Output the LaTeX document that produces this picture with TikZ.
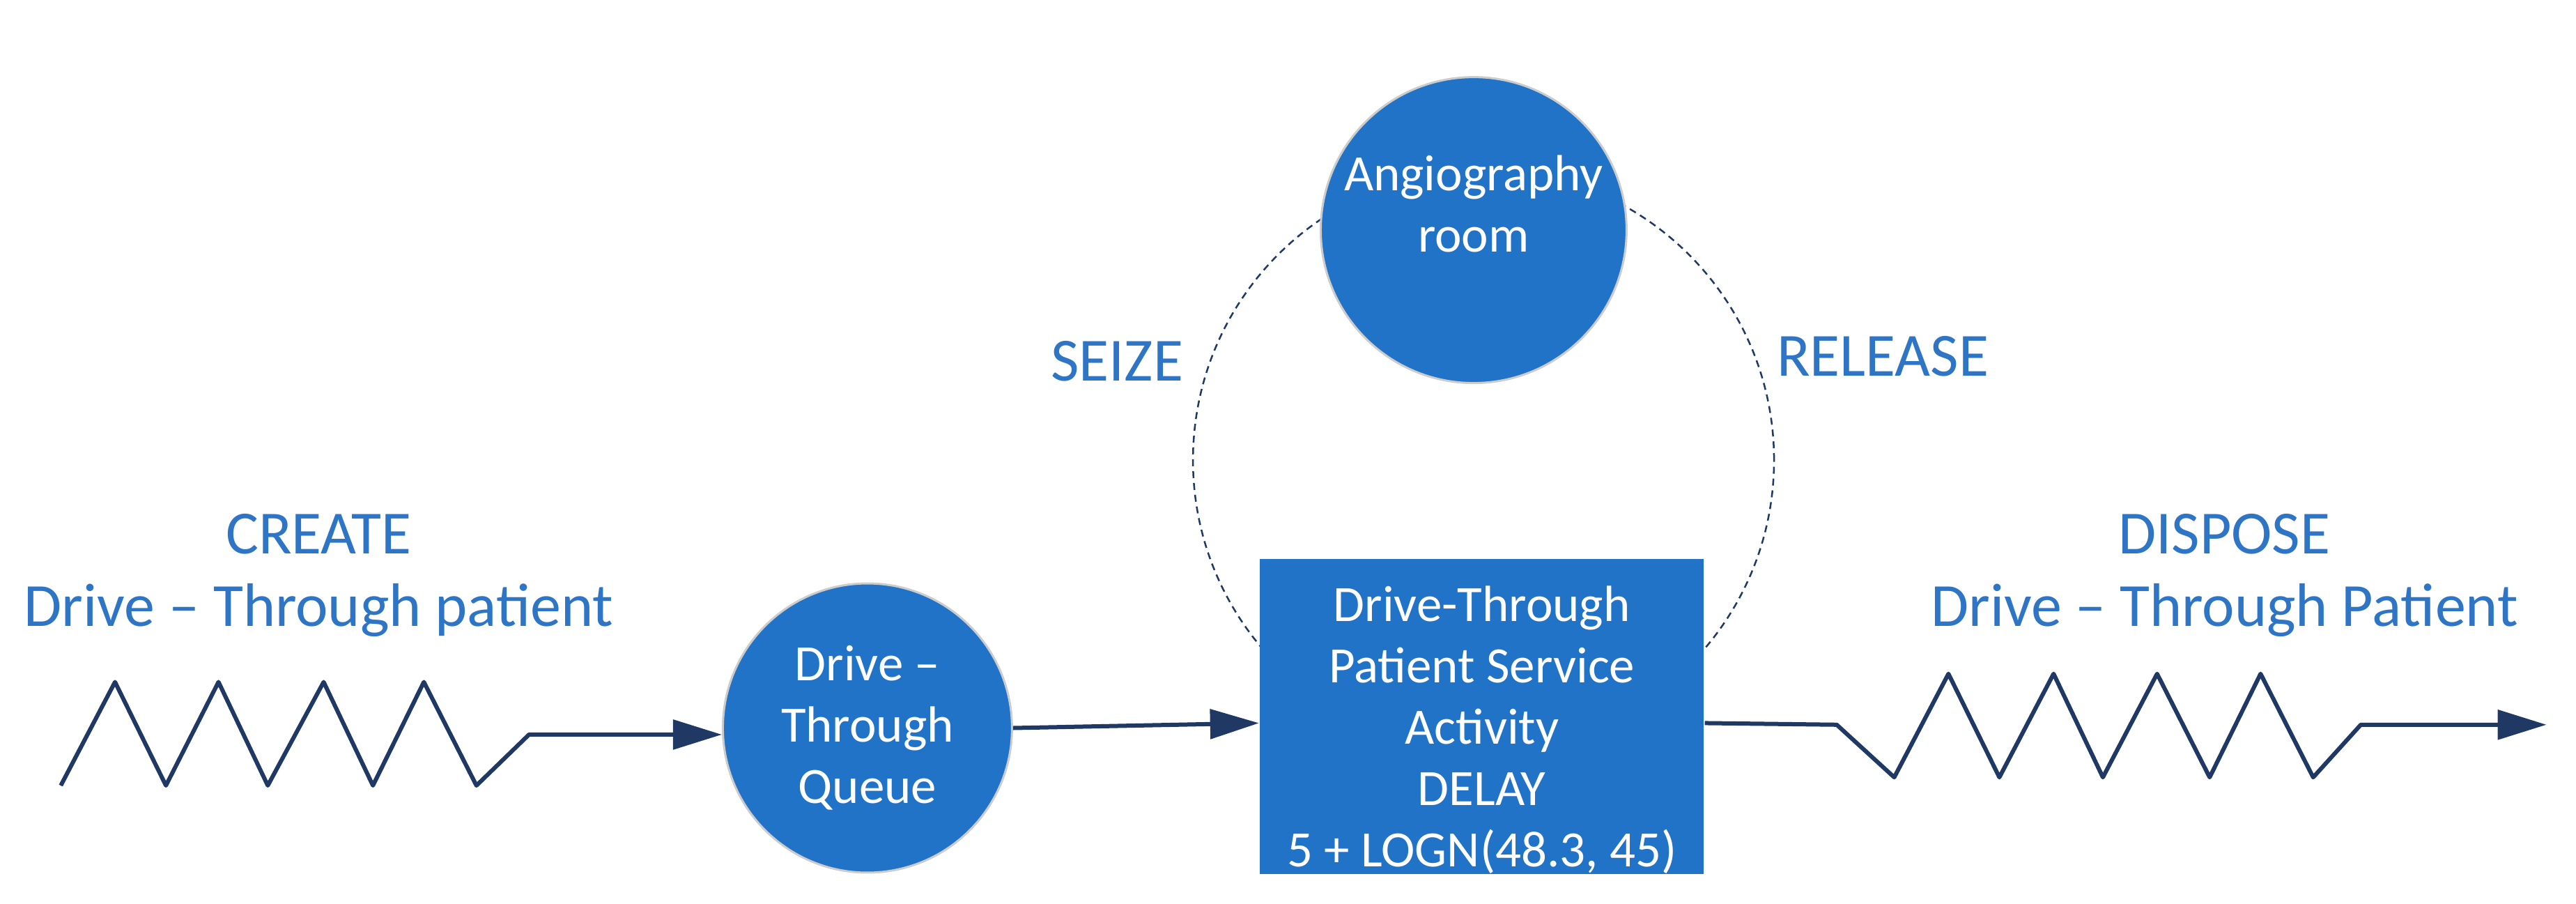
\documentclass[tikz,border=0pt]{standalone}
\usepackage{fontspec}
\setmainfont{Carlito}
\usetikzlibrary{arrows.meta}
\definecolor{fillb}{RGB}{33,115,200}
\definecolor{txtb}{RGB}{46,117,198}
\definecolor{navy}{RGB}{31,56,100}
\begin{document}
\begin{tikzpicture}[x=2.358pt,y=-2.358pt,
  blob/.style={fill=fillb,draw=gray!40,line width=3pt,text=white,align=center,font=\fontsize{73}{88}\selectfont},
  wt/.style={text=white,align=center,font=\fontsize{73}{88}\selectfont},
  lbl/.style={text=txtb,align=center,font=\fontsize{88}{104}\selectfont},
  flow/.style={navy,line width=6pt,line join=round},
  arr/.style={flow,-{Triangle[length=70pt,width=42pt]}}]
\useasboundingbox (0,0) rectangle (1568,550);
\draw[navy,dashed,line width=2.5pt,dash pattern=on 10pt off 7pt] (903,280) circle [radius=417pt];
\node[blob,circle,minimum size=439pt,inner sep=0pt] (room) at (897,140) {};
\node[wt] (roomt) at (897,124) {Angiography\\room};
\node[blob,rectangle,draw=none,minimum width=637pt,minimum height=453pt] (box) at (902,436) {};
\node[wt] (boxt) at (902,444) {Drive-Through\\Patient Service\\Activity\\DELAY\\5 + LOGN(48.3, 45)};
\node[blob,circle,minimum size=415pt,inner sep=0pt] (q) at (528,443) {Drive --\\Through\\Queue};
\node[lbl] (create) at (194,350) {CREATE\\Drive -- Through patient};
\node[lbl] (dispose) at (1354,350) {DISPOSE\\Drive -- Through Patient};
\node[lbl] (seize) at (680,220) {SEIZE};
\node[lbl] (release) at (1146,217) {RELEASE};
\coordinate (s) at (37,478);
\coordinate (e) at (1550,441);
\draw[arr] (s) -- (70,415) -- (101,478) -- (133,415) -- (163,478) -- (197,415) -- (227,478) -- (258,415) -- (290,478) -- (322,447) -- (q.west |- 0,447);
\draw[arr] (q.east |- 0,443) -- (box.west |- 0,440);
\draw[arr] (box.east |- 0,440) -- (1118,441) -- (1153,473) -- (1186,410) -- (1217,473) -- (1250,410) -- (1280,473) -- (1313,410) -- (1345,473) -- (1376,410) -- (1408,473) -- (1437,441) -- (e);
\end{tikzpicture}
\end{document}
